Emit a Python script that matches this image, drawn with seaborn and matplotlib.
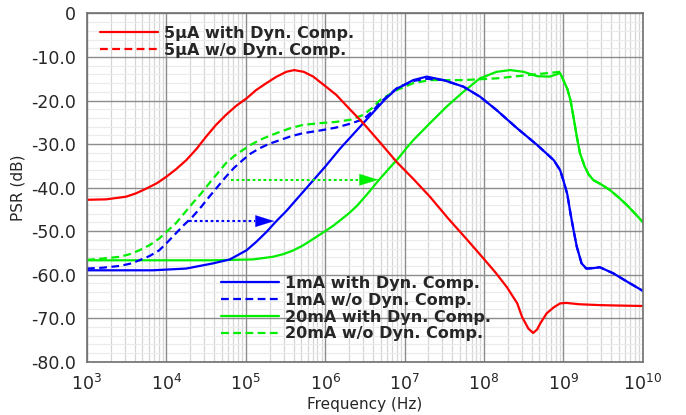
import numpy as np
import pandas as pd
import matplotlib
matplotlib.use("Agg")
import matplotlib.pyplot as plt
import seaborn as sns
from matplotlib.ticker import FixedLocator, FuncFormatter
from matplotlib.lines import Line2D

# ---------------- data (log10 of frequency in Hz, PSR in dB) ----------------
red_with_f = [3.0, 3.24, 3.49, 3.62, 3.75, 3.88, 4.0, 4.12, 4.25, 4.38, 4.5, 4.62, 4.75,
              4.88, 5.01, 5.13, 5.26, 5.38, 5.51, 5.61, 5.73, 5.85, 6.01, 6.14, 6.3,
              6.48, 6.69, 6.9, 7.11, 7.32, 7.55, 7.78, 8.0, 8.15, 8.29, 8.42, 8.48,
              8.56, 8.62, 8.67, 8.71, 8.79, 8.88, 8.96, 9.04, 9.2, 9.46, 9.7, 10.0]
red_with_db = [-42.8, -42.7, -42.1, -41.3, -40.2, -39.0, -37.5, -35.8, -33.7, -31.1,
               -28.3, -25.7, -23.3, -21.2, -19.5, -17.6, -16.0, -14.6, -13.4, -13.0,
               -13.4, -14.5, -16.8, -18.7, -21.8, -25.2, -29.6, -34.1, -38.0, -42.1,
               -47.1, -51.8, -56.4, -59.6, -62.9, -66.6, -69.7, -72.4, -73.4, -72.6,
               -71.2, -68.9, -67.5, -66.6, -66.5, -66.8, -67.0, -67.1, -67.2]

blue_with_f = [3.0, 3.5, 3.83, 4.25, 4.59, 4.8, 5.01, 5.13, 5.26, 5.38, 5.51, 5.63,
               5.76, 5.88, 6.0, 6.19, 6.4, 6.61, 6.75, 6.9, 7.11, 7.28, 7.49, 7.74,
               7.95, 8.16, 8.42, 8.67, 8.88, 8.96, 9.0, 9.05, 9.09, 9.13, 9.17, 9.23,
               9.29, 9.38, 9.46, 9.63, 9.84, 10.0]
blue_with_db = [-59.0, -59.0, -59.0, -58.6, -57.4, -56.5, -54.4, -52.5, -50.2, -47.8,
                -45.4, -42.9, -40.2, -37.7, -35.2, -31.0, -26.8, -22.6, -19.8, -17.3,
                -15.3, -14.5, -15.3, -16.8, -19.1, -22.2, -26.4, -30.2, -33.7, -36.0,
                -38.3, -41.5, -45.9, -49.9, -53.6, -57.4, -58.6, -58.5, -58.3, -59.7,
                -62.0, -63.7]

blue_wo_f = [3.0, 3.2, 3.41, 3.54, 3.66, 3.79, 3.91, 4.01, 4.12, 4.22, 4.33, 4.44, 4.54,
             4.65, 4.75, 4.85, 4.96, 5.06, 5.17, 5.3, 5.43, 5.57, 5.72, 5.93, 6.14,
             6.32, 6.48, 6.6, 6.69, 6.9, 7.11, 7.28, 7.49, 7.74, 7.95, 8.16, 8.42,
             8.67, 8.88, 8.96, 9.0, 9.05, 9.09, 9.13, 9.17, 9.23, 9.29, 9.38, 9.46,
             9.63, 9.84, 10.0]
blue_wo_db = [-58.6, -58.4, -58.0, -57.5, -56.7, -55.7, -54.4, -52.6, -50.5, -48.6,
              -46.7, -44.4, -42.1, -39.7, -37.5, -35.5, -33.7, -32.2, -31.0, -29.9,
              -29.1, -28.2, -27.5, -26.9, -26.2, -25.3, -24.3, -22.4, -20.5, -17.2,
              -15.5, -15.0, -15.3, -16.8, -19.1, -22.2, -26.4, -30.2, -33.7, -36.0,
              -38.3, -41.5, -45.9, -49.9, -53.6, -57.4, -58.6, -58.5, -58.3, -59.7,
              -62.0, -63.7]

green_with_f = [3.0, 4.0, 4.6, 5.09, 5.34, 5.47, 5.59, 5.72, 5.85, 6.0, 6.1, 6.19, 6.3,
                6.4, 6.53, 6.67, 6.82, 6.92, 7.03, 7.11, 7.32, 7.53, 7.74, 7.95, 8.16,
                8.33, 8.5, 8.67, 8.83, 8.96, 9.0, 9.05, 9.09, 9.13, 9.17, 9.21, 9.27,
                9.32, 9.38, 9.48, 9.59, 9.7, 9.8, 9.9, 10.0]
green_with_db = [-56.7, -56.7, -56.7, -56.5, -55.9, -55.3, -54.5, -53.3, -51.8, -50.0,
                 -48.8, -47.5, -45.9, -44.2, -41.5, -38.4, -35.3, -33.3, -30.8, -29.1,
                 -25.2, -21.4, -18.0, -14.9, -13.4, -13.0, -13.4, -14.4, -14.5, -13.7,
                 -15.3, -17.3, -19.9, -24.0, -28.3, -32.1, -35.2, -37.0, -38.3, -39.3,
                 -40.6, -42.3, -44.0, -45.9, -47.9]

green_wo_f = [3.0, 3.2, 3.41, 3.54, 3.66, 3.79, 3.91, 4.01, 4.12, 4.22, 4.33, 4.44,
              4.54, 4.65, 4.75, 4.85, 4.96, 5.06, 5.17, 5.3, 5.43, 5.57, 5.72, 5.93,
              6.14, 6.32, 6.48, 6.6, 6.69, 6.9, 7.11, 7.32, 7.74, 8.16, 8.58, 8.96,
              9.0, 9.05, 9.09, 9.13, 9.17, 9.21, 9.27, 9.32, 9.38, 9.48, 9.59, 9.7,
              9.8, 9.9, 10.0]
green_wo_db = [-56.6, -56.3, -55.9, -55.3, -54.4, -53.2, -51.7, -50.0, -48.2, -46.0,
               -43.6, -41.3, -39.0, -36.6, -34.4, -32.8, -31.4, -30.2, -29.1, -28.1,
               -27.2, -26.3, -25.6, -25.2, -24.9, -24.4, -23.3, -21.6, -19.9, -17.6,
               -16.0, -15.3, -15.3, -14.9, -14.1, -13.4, -15.3, -17.3, -19.9, -24.0,
               -28.3, -32.1, -35.2, -37.0, -38.3, -39.3, -40.6, -42.3, -44.0, -45.9,
               -47.9]

# annotation arrows: [start log f, tip log f, level dB]
blue_arrow = [4.29, 5.36, -47.7]
green_arrow = [4.82, 6.67, -38.2]
arrow_head_decades = 0.25

x_tick_exps = [3, 4, 5, 6, 7, 8, 9, 10]
y_ticks = [0, -10, -20, -30, -40, -50, -60, -70, -80]

legend_top = ["5µA with Dyn. Comp.", "5µA w/o Dyn. Comp."]
legend_bottom = ["1mA with Dyn. Comp.", "1mA w/o Dyn. Comp.",
                 "20mA with Dyn. Comp.", "20mA w/o Dyn. Comp."]

RED, BLUE, GREEN = "#ff0000", "#0000ff", "#00ee00"

# ---------------- figure ----------------
sns.set_style("white")
plt.rcParams["font.family"] = ["DejaVu Sans"]

fig = plt.figure(figsize=(6.86, 4.15), dpi=100)
ax = fig.add_axes([87 / 686, 1 - 361.7 / 415, (642.7 - 87) / 686, (361.7 - 13.5) / 415])

DASH = (0, (3.5, 2.0))
LW = 1.6

def draw(fexp, db, color, ls):
    df = pd.DataFrame({"f": np.power(10.0, fexp), "db": db})
    sns.lineplot(data=df, x="f", y="db", ax=ax, color=color, linewidth=LW,
                 linestyle=ls, sort=False, estimator=None)

draw(green_with_f, green_with_db, GREEN, "-")
draw(green_wo_f, green_wo_db, GREEN, DASH)
draw(blue_with_f, blue_with_db, BLUE, "-")
draw(blue_wo_f, blue_wo_db, BLUE, DASH)
draw(red_with_f, red_with_db, RED, "-")

# dotted arrows
for arr, col in [(blue_arrow, BLUE), (green_arrow, GREEN)]:
    x0, x1 = 10 ** arr[0], 10 ** arr[1]
    xm = 10 ** (arr[1] - arrow_head_decades)
    ax.plot([x0, xm], [arr[2], arr[2]], color=col, lw=1.5, linestyle=(0, (1.3, 1.3)))
    ax.annotate("", xy=(x1, arr[2]), xytext=(xm, arr[2]),
                arrowprops=dict(arrowstyle="-|>,head_length=1.35,head_width=0.42",
                                color=col, lw=0.1, shrinkA=0, shrinkB=0))

ax.set_xscale("log")
ax.set_xlim(1e3, 1e10)
ax.set_ylim(-80, 0)

# minor grid lines drawn underneath the major grid
for e in x_tick_exps[:-1]:
    for m in range(2, 10):
        ax.axvline(m * 10.0 ** e, color="#d6d6d6", lw=0.9, zorder=0.2)
for yv in np.arange(-78, 0, 2):
    if yv % 10:
        ax.axhline(yv, color="#ebebeb", lw=0.8, zorder=0.2)

ax.xaxis.set_major_locator(FixedLocator([10.0 ** e for e in x_tick_exps]))
ax.xaxis.set_major_formatter(FuncFormatter(lambda v, p: r"$\mathdefault{10^{%d}}$" % round(np.log10(v))))
ax.xaxis.set_minor_locator(FixedLocator([m * 10.0 ** e for e in x_tick_exps[:-1] for m in range(2, 10)]))

ax.yaxis.set_major_locator(FixedLocator(y_ticks))
ax.yaxis.set_major_formatter(FuncFormatter(lambda v, p: "0" if v == 0 else "%.1f" % v))
ax.yaxis.set_minor_locator(FixedLocator(np.arange(-80, 0, 2)))

ax.grid(which="major", color="#8c8c8c", linewidth=1.0)
ax.grid(which="minor", visible=False)
ax.set_axisbelow(True)

for s in ax.spines.values():
    s.set_color("#707070")
    s.set_linewidth(1.2)

ax.tick_params(which="major", direction="out", length=5, width=1, color="#505050",
               labelsize=12.5, pad=3)
ax.tick_params(which="minor", direction="out", length=3, width=0.8, color="#505050")
ax.tick_params(axis="x", which="major", pad=4)

ax.set_xlabel("Frequency (Hz)", fontsize=11, labelpad=2)
ax.set_ylabel("PSR (dB)", fontsize=11, labelpad=4)

# legends
top_handles = [Line2D([], [], color=RED, lw=LW), Line2D([], [], color=RED, lw=LW, linestyle=DASH)]
bot_handles = [Line2D([], [], color=BLUE, lw=LW), Line2D([], [], color=BLUE, lw=LW, linestyle=DASH),
               Line2D([], [], color=GREEN, lw=LW), Line2D([], [], color=GREEN, lw=LW, linestyle=DASH)]
common = dict(frameon=False, borderpad=0, borderaxespad=0, handlelength=3.6,
              handletextpad=0.4, labelspacing=0.12, prop={"weight": "bold", "size": 11.5})
leg1 = ax.legend(top_handles, legend_top, loc="upper left",
                 bbox_to_anchor=(0.024, 0.965), **common)
ax.add_artist(leg1)
ax.legend(bot_handles, legend_bottom, loc="upper left",
          bbox_to_anchor=(0.2416, 0.247), **common)

fig.savefig("out.png", dpi=100)
